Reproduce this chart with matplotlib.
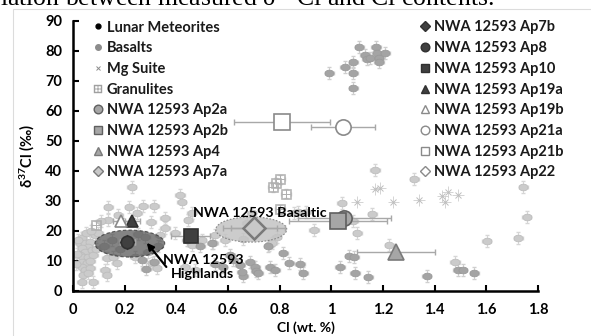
import matplotlib
matplotlib.use("Agg")
import matplotlib.pyplot as plt
from matplotlib.lines import Line2D
from matplotlib.patches import Ellipse, Rectangle
from matplotlib.path import Path
from matplotlib.transforms import Affine2D

plt.rcParams['font.family'] = ['Lato', 'DejaVu Sans']
plt.rcParams['font.weight'] = 'bold'
plt.rcParams['mathtext.fontset'] = 'custom'
plt.rcParams['mathtext.rm'] = 'Lato:bold'
plt.rcParams['mathtext.bf'] = 'Lato:bold'
plt.rcParams['mathtext.it'] = 'Lato:bold'

# ---------------- data ----------------
# Light grey literature points (lunar meteorites / highlands etc.)
lm_x = [0.034, 0.027, 0.046, 0.066, 0.059, 0.034, 0.046, 0.072, 0.027, 0.040, 0.059, 0.079,
        0.034, 0.053, 0.066, 0.034, 0.046, 0.066, 0.040, 0.059, 0.034, 0.079, 0.085, 0.098,
        0.124, 0.130, 0.137, 0.137, 0.107, 0.175, 0.227, 0.218, 0.272, 0.315, 0.249, 0.302,
        0.169, 0.130, 0.156, 0.240, 0.307, 0.324, 0.337, 0.330, 0.356, 0.356, 0.012, 0.020,
        0.090, 0.150, 0.180, 0.250, 0.280, 0.120, 0.290, 0.050, 0.015, 0.070,
        0.414, 0.421, 0.459, 0.447, 0.395, 0.459, 0.498, 0.550, 0.543, 0.434, 0.472, 0.588,
        0.672, 0.692, 0.659, 0.760, 0.789, 0.770,
        0.856, 0.872, 0.902, 0.933, 1.040, 1.085, 1.100, 1.159, 1.169, 1.225, 1.321, 1.479,
        1.601, 1.724, 1.743, 1.756]
lm_y = [17.6, 15.9, 15.9, 16.4, 14.8, 14.2, 13.1, 13.7, 12.0, 11.4, 11.4, 12.0,
        9.8, 9.2, 10.0, 8.1, 7.0, 7.6, 5.3, 5.9, 3.1, 3.1, 18.7, 19.2,
        7.0, 5.3, 28.1, 23.7, 23.4, 25.3, 34.8, 27.9, 28.4, 28.4, 25.9, 23.1,
        9.2, 10.9, 11.2, 11.4, 9.2, 7.6, 18.7, 15.0, 24.2, 20.9, 9.0, 17.0,
        14.0, 17.0, 14.0, 19.0, 18.0, 15.0, 13.0, 19.5, 12.5, 20.0,
        32.0, 29.8, 25.9, 23.7, 19.2, 15.3, 17.0, 18.7, 15.9, 8.1, 7.0, 17.0,
        22.8, 26.1, 17.3, 15.3, 18.1, 16.0,
        26.1, 26.4, 26.2, 20.3, 29.4, 23.5, 19.2, 25.8, 40.5, 15.2, 37.3, 9.8,
        16.8, 17.6, 34.8, 24.8]

# Medium grey basalt points
bas_x = [0.992, 1.053, 1.085, 1.085, 1.085, 1.109, 1.130, 1.137, 1.150, 1.173, 1.176, 1.185,
         1.185, 1.208,
         0.268, 0.283, 0.314, 0.492, 0.440, 0.537, 0.550, 0.580, 0.608, 0.621, 0.647, 0.659,
         0.653, 0.685, 0.705, 0.708, 0.717, 0.763, 0.782, 0.814, 0.838, 0.879, 0.892, 0.756,
         1.034, 1.070, 1.088, 1.092, 1.143, 1.369, 1.489, 1.508, 1.553]
bas_y = [72.6, 74.8, 76.4, 72.6, 67.6, 81.2, 78.7, 77.2, 77.6, 81.4, 79.2, 77.6,
         76.4, 79.2,
         10.3, 7.2, 9.8, 15.0, 17.0, 15.9, 9.0, 8.1, 12.0, 10.3, 8.7, 5.0,
         6.4, 9.8, 8.1, 6.8, 5.9, 7.9, 7.0, 12.8, 9.4, 9.0, 5.9, 15.0,
         8.0, 11.7, 11.4, 5.9, 4.7, 5.0, 7.0, 6.9, 6.0]

# Mg suite
mg_x = [1.10, 1.17, 1.19, 1.24, 1.34, 1.43, 1.44, 1.45, 1.49]
mg_y = [29.7, 33.9, 34.4, 29.8, 30.2, 31.8, 29.8, 33.0, 32.0]

# Granulites
gr_x = [0.775, 0.786, 0.800, 0.825, 0.800, 0.090]
gr_y = [34.6, 36.1, 37.3, 32.5, 27.3, 22.0]

# NWA 12593 apatite analyses
nwa_names = ['NWA 12593 Ap2a', 'NWA 12593 Ap2b', 'NWA 12593 Ap4', 'NWA 12593 Ap7a',
             'NWA 12593 Ap7b', 'NWA 12593 Ap8', 'NWA 12593 Ap10', 'NWA 12593 Ap19a',
             'NWA 12593 Ap19b', 'NWA 12593 Ap21a', 'NWA 12593 Ap21b', 'NWA 12593 Ap22']
nwa_x = [1.050, 1.025, 1.250, 0.700, 0.210, 0.210, 0.455, 0.230, 0.185, 1.045, 0.808, 0.700]
nwa_y = [24.3, 23.5, 13.0, 21.0, 16.5, 16.3, 18.5, 23.2, 23.2, 54.7, 56.3, 21.0]
nwa_xerr = [0.18, 0.19, 0.15, 0.09, 0.03, 0.03, 0.075, 0.03, 0.03, 0.125, 0.185, 0.12]
nwa_yerr = [1.0, 1.0, 1.0, 1.5, 1.0, 1.0, 1.0, 1.0, 1.0, 1.0, 1.0, 1.0]

xticks = [0, 0.2, 0.4, 0.6, 0.8, 1, 1.2, 1.4, 1.6, 1.8]
xtick_labels = ['0', '0.2', '0.4', '0.6', '0.8', '1', '1.2', '1.4', '1.6', '1.8']
yticks = [0, 10, 20, 30, 40, 50, 60, 70, 80, 90]

# ---------------- styles ----------------
nwa_marker = ['o', 's', '^', 'D', 'D', 'o', 's', '^', '^', 'o', 's', 'D']
nwa_fc = ['#a6a6a6', '#a6a6a6', '#a6a6a6', '#c8c8c8', '#404040', '#404040', '#404040',
          '#404040', 'white', 'white', 'white', 'white']
nwa_ec = ['#606060', '#606060', '#7a7a7a', '#7a7a7a', '#303030', '#303030', '#303030',
          '#303030', '#8a8a8a', '#8a8a8a', '#8a8a8a', '#8a8a8a']
nwa_ms = [11, 11, 12, 11, 6, 9, 10, 9, 9, 11, 11, 9]
nwa_z = [6, 7, 6, 8, 5, 6, 6, 6, 6, 6, 6, 5]
leg_ms = [6.2, 6.2, 6.4, 5.0, 5.0, 6.2, 6.0, 6.4, 6.4, 6.2, 6.0, 5.0]

ell = Path.unit_circle().transformed(Affine2D().scale(1.35, 1.0))

W, H = 591, 336
fig = plt.figure(figsize=(W / 100, H / 100), dpi=100)
ax = fig.add_axes([73 / W, 1 - 291 / H, (538 - 73) / W, (291 - 21) / H])

# faint frame of the original document figure
fig.patches.append(Rectangle((13 / W, -0.1), 1.2, 1 - 9 / H + 0.1, transform=fig.transFigure,
                             fill=False, edgecolor='#dcdcdc', lw=0.8))

# caption text cut off at the top edge, as in the reference crop
fig.text(0.0, 1 - 6 / H, r'lation between measured δ$^{37}$Cl and Cl contents.',
         family='Liberation Serif', fontweight='normal', fontsize=18.5, va='baseline',
         ha='left', color='black')

# background data
ax.errorbar(lm_x, lm_y, xerr=0.018, yerr=2.0, fmt='none', ecolor='#d6d6d6',
            elinewidth=0.7, capsize=1.2, zorder=1)
ax.plot(lm_x, lm_y, ls='none', marker=ell, ms=6.5, mfc='#cbcbcb', mec='#bdbdbd',
        mew=0.6, zorder=2)
ax.errorbar(bas_x, bas_y, xerr=0.018, yerr=2.0, fmt='none', ecolor='#cfcfcf',
            elinewidth=0.7, capsize=1.2, zorder=1)
ax.plot(bas_x, bas_y, ls='none', marker=ell, ms=6.5, mfc='#a4a4a4', mec='#9a9a9a',
        mew=0.6, zorder=2)
ax.errorbar(mg_x, mg_y, xerr=0.022, yerr=2.0, fmt='none', ecolor='#cdcdcd',
            elinewidth=0.6, capsize=0, zorder=1)
ax.plot(mg_x, mg_y, ls='none', marker='x', ms=4, mec='#bdbdbd', mew=0.7, zorder=2)
ax.errorbar(gr_x, gr_y, xerr=0.02, yerr=1.5, fmt='none', ecolor='#cfcfcf',
            elinewidth=0.7, capsize=1.2, zorder=1)
ax.plot(gr_x, gr_y, ls='none', marker=r'$\boxplus$', ms=7, mec='#b0b0b0', mfc='#b0b0b0',
        mew=0.4, zorder=2)

# ellipses (NWA 12593 fields)
ax.add_patch(Ellipse((0.22, 15.8), 0.27, 9.0, facecolor='#505050', alpha=0.7,
                     edgecolor='#2a2a2a', ls=(0, (3, 2)), lw=0.8, zorder=3))
ax.add_patch(Ellipse((0.69, 20.5), 0.275, 8.4, facecolor='#c4c4c4', alpha=0.85,
                     edgecolor='#7a7a7a', ls=(0, (1.5, 1.5)), lw=0.8, zorder=3))

# NWA points
for i in range(len(nwa_names)):
    ax.errorbar(nwa_x[i], nwa_y[i], xerr=nwa_xerr[i], yerr=nwa_yerr[i], fmt='none',
                ecolor='#a8a8a8', elinewidth=1.0, capsize=2, zorder=4)
    ax.plot(nwa_x[i], nwa_y[i], ls='none', marker=nwa_marker[i], ms=nwa_ms[i],
            mfc=nwa_fc[i], mec=nwa_ec[i], mew=1.2 if nwa_marker[i] != 'D' else 1.8,
            zorder=nwa_z[i])

# annotations
ax.text(0.724, 26.0, 'NWA 12593 Basaltic', ha='center', va='center', fontsize=10.3,
        fontweight='bold', color='black', zorder=9)
ax.text(0.503, 8.0, 'NWA 12593\nHighlands', ha='center', va='center', fontsize=10.3,
        fontweight='bold', color='black', linespacing=1.3, zorder=9)
ax.annotate('', xy=(0.279, 16.8), xytext=(0.368, 7.3),
            arrowprops=dict(arrowstyle='-|>', color='black', lw=1.6, mutation_scale=10),
            zorder=9)

# axes styling
ax.set_xlim(0, 1.8)
ax.set_ylim(0, 90)
ax.set_xticks(xticks)
ax.set_xticklabels(xtick_labels)
ax.set_yticks(yticks)
for s in ['top', 'right']:
    ax.spines[s].set_visible(False)
for s in ['left', 'bottom']:
    ax.spines[s].set_linewidth(1.8)
ax.tick_params(direction='in', length=4, width=1.5, labelsize=10.5, pad=8)
ax.tick_params(axis='x', pad=9)
for lab in ax.get_xticklabels() + ax.get_yticklabels():
    lab.set_fontweight('bold')
ax.set_xlabel('Cl (wt. %)', fontsize=10, fontweight='bold', labelpad=3)
ax.set_ylabel(r'δ$^{37}$Cl (‰)', fontsize=10.5, fontweight='bold', labelpad=6)

# legends
def proxy(marker, ms, fc, ec, mew=1.0):
    return Line2D([], [], ls='none', marker=marker, ms=ms, mfc=fc, mec=ec, mew=mew)

left_handles = [proxy('o', 3.5, 'black', 'black'),
                proxy('o', 4, '#8c8c8c', '#8c8c8c'),
                proxy('x', 3.5, '#8c8c8c', '#8c8c8c', 0.7),
                proxy(r'$\boxplus$', 6, '#a0a0a0', '#a0a0a0', 0.3)]
left_labels = ['Lunar Meteorites', 'Basalts', 'Mg Suite', 'Granulites']
for i in range(4):
    left_handles.append(proxy(nwa_marker[i], leg_ms[i], nwa_fc[i], nwa_ec[i]))
    left_labels.append(nwa_names[i])
right_handles = [proxy(nwa_marker[i], leg_ms[i], nwa_fc[i], nwa_ec[i]) for i in range(4, 12)]
right_labels = nwa_names[4:]

leg_kw = dict(frameon=False, fontsize=10.5, handlelength=0.6, handletextpad=0.31,
              labelspacing=0.46, borderpad=0, borderaxespad=0, loc='upper left',
              bbox_transform=fig.transFigure)
leg1 = ax.legend(left_handles, left_labels, bbox_to_anchor=(93.6 / W, 1 - 20.5 / H), **leg_kw)
ax.add_artist(leg1)
leg2 = ax.legend(right_handles, right_labels, bbox_to_anchor=(420.6 / W, 1 - 20.5 / H), **leg_kw)
for leg in (leg1, leg2):
    leg.set_zorder(10)
    for t in leg.get_texts():
        t.set_fontweight('bold')
        t.set_color('#1a1a1a')

fig.savefig('out.png', dpi=100)
